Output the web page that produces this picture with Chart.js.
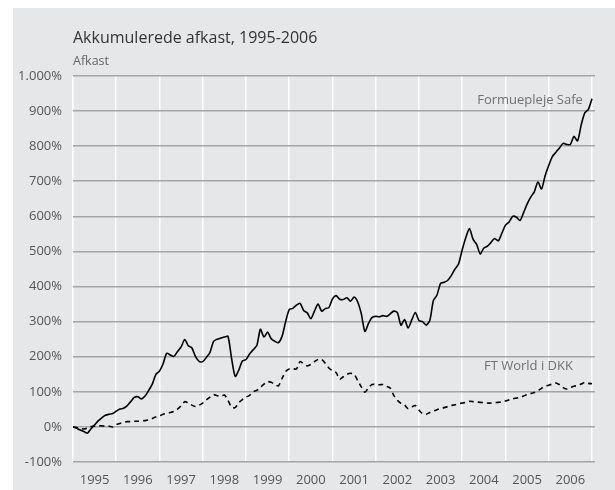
<!DOCTYPE html>
<html>
<head>
<meta charset="utf-8">
<script src="https://cdn.jsdelivr.net/npm/chart.js@4/dist/chart.umd.min.js"></script>
<style>
html,body{margin:0;padding:0;background:#fff;}
canvas{display:block;}
</style>
</head>
<body>
<canvas id="c" width="615" height="490"></canvas>
<script>
// Monthly data, Dec 1994 (=0) through Dec 2006
const startYear = 1995;
const titleText = "Akkumulerede afkast, 1995-2006";
const subtitleText = "Afkast";
const seriesNames = ["Formuepleje Safe", "FT World i DKK"];
const yTicks = [-100, 0, 100, 200, 300, 400, 500, 600, 700, 800, 900, 1000];
const xTickYears = [1995, 1996, 1997, 1998, 1999, 2000, 2001, 2002, 2003, 2004, 2005, 2006, 2007];

const formuepleje = [
  0, -4, -9, -13, -18, -5, 6, 17, 26, 33, 36, 38,
  45, 51, 53, 60, 72, 84, 86, 80, 88, 104, 122, 150,
  159, 180, 210, 205, 201, 215, 228, 249, 231, 225, 200, 187,
  186, 198, 212, 244, 250, 253, 256, 258, 195, 144, 162, 188,
  192, 208, 220, 232, 278, 256, 270, 251, 244, 240, 258, 300,
  334, 338, 347, 352, 332, 325, 308, 330, 350, 330, 337, 340,
  365, 374, 364, 363, 368, 358, 370, 356, 322, 272, 295, 312,
  315, 314, 317, 315, 322, 330, 326, 290, 306, 282, 305, 326,
  303, 300, 290, 303, 360, 376, 409, 412, 418, 432, 450, 465,
  505, 540, 565, 535, 520, 493, 510, 515, 526, 537, 530, 552,
  575, 584, 600, 598, 588, 610, 635, 655, 670, 698, 678, 716,
  745, 770, 783, 795, 808, 805, 805, 828, 815, 860, 895, 905,
  935
];
const ftWorld = [
  0, -2, -4, -6, -3, 1, 2, 3, 3, 2, 2, 0,
  7, 10, 13, 15, 15, 16, 16, 17, 18, 20, 24, 28,
  31, 36, 39, 41, 44, 51, 60, 72, 68, 62, 58, 62,
  68, 77, 85, 92, 89, 87, 91, 76, 56, 55, 69, 78,
  85, 90, 100, 104, 113, 122, 129, 127, 121, 117, 138, 158,
  165, 166, 165, 186, 180, 174, 178, 186, 192, 192, 181, 168,
  160, 155, 136, 143, 150, 153, 150, 132, 114, 99, 112, 121,
  121, 120, 121, 116, 111, 90, 76, 67, 62, 52, 57, 61,
  48, 38, 36, 41, 45, 49, 53, 55, 58, 61, 63, 66,
  68, 70, 73, 72, 71, 70, 69, 68, 68, 69, 70, 71,
  74, 77, 80, 82, 84, 88, 92, 95, 98, 103, 110, 116,
  119, 122, 125, 120, 112, 108, 112, 116, 118, 122, 127, 124,
  123
];

const FONT = "'Open Sans', 'Liberation Sans', sans-serif";
const toPoints = arr => arr.map((v, i) => ({ x: startYear + i / 12, y: v }));

const bgPlugin = {
  id: 'bg',
  beforeDraw(chart) {
    const ctx = chart.ctx;
    ctx.save();
    ctx.fillStyle = '#ffffff';
    ctx.fillRect(0, 0, chart.width, chart.height);
    ctx.fillStyle = '#e6e7e9';
    ctx.fillRect(13, 8, chart.width - 13, chart.height - 8);
    ctx.restore();
  }
};

const textPlugin = {
  id: 'texts',
  afterDraw(chart) {
    const ctx = chart.ctx;
    const xs = chart.scales.x, ys = chart.scales.y;
    ctx.save();
    ctx.textBaseline = 'alphabetic';
    ctx.textAlign = 'left';
    ctx.fillStyle = '#333333';
    ctx.font = '16px ' + FONT;
    ctx.fillText(titleText, chart.chartArea.left, 43);
    ctx.fillStyle = '#666666';
    ctx.font = '12.5px ' + FONT;
    ctx.fillText(subtitleText, chart.chartArea.left, 65);
    ctx.textAlign = 'right';
    ctx.textBaseline = 'middle';
    ctx.fillStyle = '#707070';
    ctx.font = '13px ' + FONT;
    ctx.fillText(seriesNames[0], xs.getPixelForValue(2006.79), ys.getPixelForValue(930));
    ctx.fillText(seriesNames[1], xs.getPixelForValue(2006.56), ys.getPixelForValue(173));
    ctx.restore();
  }
};

new Chart(document.getElementById('c'), {
  type: 'line',
  data: {
    datasets: [
      {
        label: seriesNames[0],
        data: toPoints(formuepleje),
        borderColor: '#000000',
        borderWidth: 1.6,
        pointRadius: 0,
        tension: 0.25,
        fill: false
      },
      {
        label: seriesNames[1],
        data: toPoints(ftWorld),
        borderColor: '#000000',
        borderWidth: 1.6,
        borderDash: [5, 4],
        pointRadius: 0,
        tension: 0.25,
        fill: false
      }
    ]
  },
  options: {
    responsive: false,
    devicePixelRatio: 1,
    animation: false,
    layout: { padding: { left: 0, right: 20, top: 76, bottom: 0 } },
    plugins: { legend: { display: false }, tooltip: { enabled: false }, title: { display: false } },
    scales: {
      x: {
        type: 'linear',
        min: 1995,
        max: 2007.07,
        z: -1,
        afterBuildTicks(scale) { scale.ticks = xTickYears.map(v => ({ value: v })); },
        afterFit(scale) { scale.height = 28; },
        grid: { color: '#ffffff', lineWidth: 1.5, drawTicks: false },
        border: { display: false },
        ticks: {
          autoSkip: false,
          maxRotation: 0,
          labelOffset: 21.6,
          padding: 10,
          color: '#555555',
          font: { family: FONT, size: 13 },
          callback: v => (v >= 2007 ? '' : String(v))
        }
      },
      y: {
        min: -100,
        max: 1000,
        afterBuildTicks(scale) { scale.ticks = yTicks.map(v => ({ value: v })); },
        afterFit(scale) { scale.width = 73; },
        grid: { color: '#a5a5a5', lineWidth: 1.6, drawTicks: false },
        border: { display: false },
        ticks: {
          padding: 11,
          color: '#555555',
          font: { family: FONT, size: 13 },
          callback: v => (v >= 1000 ? (v / 1000).toFixed(0) + '.' + String(v % 1000).padStart(3, '0') : String(v)) + '%'
        }
      }
    }
  },
  plugins: [bgPlugin, textPlugin]
});
</script>
</body>
</html>
